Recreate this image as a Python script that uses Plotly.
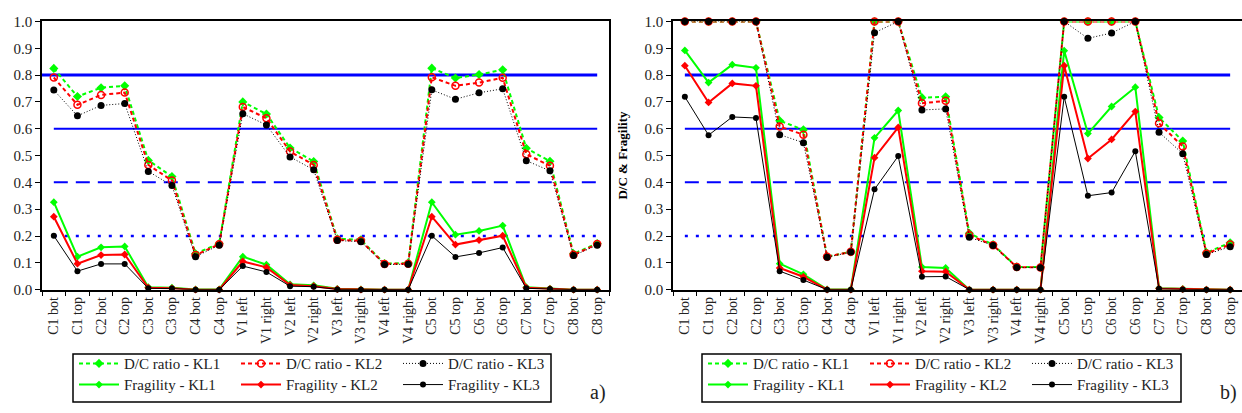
import plotly.graph_objects as go

categories = ["C1 bot", "C1 top", "C2 bot", "C2 top", "C3 bot", "C3 top", "C4 bot", "C4 top",
              "V1 left", "V1 right", "V2 left", "V2 right", "V3 left", "V3 right", "V4 left", "V4 right",
              "C5 bot", "C5 top", "C6 bot", "C6 top", "C7 bot", "C7 top", "C8 bot", "C8 top"]

# chart a)
a_dc_kl1 = [0.825, 0.720, 0.753, 0.760, 0.482, 0.422, 0.134, 0.172, 0.700, 0.655, 0.528, 0.478,
            0.190, 0.186, 0.097, 0.099, 0.826, 0.789, 0.802, 0.820, 0.527, 0.479, 0.134, 0.172]
a_dc_kl2 = [0.791, 0.689, 0.726, 0.735, 0.465, 0.407, 0.129, 0.169, 0.681, 0.639, 0.515, 0.465,
            0.186, 0.182, 0.096, 0.097, 0.792, 0.760, 0.772, 0.790, 0.505, 0.462, 0.130, 0.170]
a_dc_kl3 = [0.744, 0.648, 0.687, 0.694, 0.441, 0.388, 0.123, 0.166, 0.656, 0.614, 0.495, 0.447,
            0.183, 0.179, 0.094, 0.095, 0.745, 0.710, 0.734, 0.749, 0.481, 0.443, 0.127, 0.166]
a_fr_kl1 = [0.326, 0.123, 0.158, 0.161, 0.009, 0.007, 0.001, 0.001, 0.123, 0.093, 0.020, 0.016,
            0.003, 0.001, 0.0, 0.0, 0.326, 0.205, 0.219, 0.239, 0.009, 0.004, 0.0, 0.0]
a_fr_kl2 = [0.272, 0.097, 0.129, 0.131, 0.007, 0.005, 0.0, 0.0, 0.105, 0.083, 0.017, 0.013,
            0.002, 0.0, 0.0, 0.0, 0.272, 0.168, 0.185, 0.201, 0.007, 0.003, 0.0, 0.0]
a_fr_kl3 = [0.201, 0.069, 0.096, 0.096, 0.005, 0.004, 0.0, 0.0, 0.088, 0.066, 0.013, 0.011,
            0.001, 0.0, 0.0, 0.0, 0.201, 0.122, 0.137, 0.157, 0.005, 0.002, 0.0, 0.0]

# chart b)
b_dc_kl1 = [1.0, 1.0, 1.0, 1.0, 0.630, 0.596, 0.123, 0.141, 1.0, 1.0, 0.716, 0.719,
            0.210, 0.168, 0.085, 0.084, 1.0, 1.0, 1.0, 1.0, 0.642, 0.554, 0.138, 0.175]
b_dc_kl2 = [1.0, 1.0, 1.0, 1.0, 0.608, 0.578, 0.123, 0.141, 1.0, 1.0, 0.695, 0.704,
            0.203, 0.166, 0.084, 0.083, 1.0, 1.0, 1.0, 1.0, 0.620, 0.534, 0.135, 0.168]
b_dc_kl3 = [1.0, 1.0, 1.0, 1.0, 0.578, 0.548, 0.121, 0.140, 0.958, 1.0, 0.670, 0.674,
            0.195, 0.165, 0.083, 0.082, 1.0, 0.937, 0.957, 1.0, 0.587, 0.507, 0.131, 0.160]
b_fr_kl1 = [0.892, 0.772, 0.839, 0.827, 0.097, 0.057, 0.001, 0.001, 0.566, 0.668, 0.084, 0.081,
            0.0, 0.0, 0.0, 0.0, 0.891, 0.582, 0.683, 0.755, 0.005, 0.003, 0.0, 0.0]
b_fr_kl2 = [0.835, 0.698, 0.769, 0.760, 0.081, 0.048, 0.0, 0.0, 0.492, 0.605, 0.069, 0.067,
            0.0, 0.0, 0.0, 0.0, 0.835, 0.489, 0.560, 0.664, 0.004, 0.002, 0.0, 0.0]
b_fr_kl3 = [0.719, 0.576, 0.644, 0.640, 0.069, 0.036, 0.0, 0.0, 0.374, 0.498, 0.048, 0.049,
            0.0, 0.0, 0.0, 0.0, 0.719, 0.350, 0.362, 0.516, 0.003, 0.001, 0.0, 0.0]

ref_levels = [0.8, 0.6, 0.4, 0.2]
ref_widths = [3, 2, 2, 2.5]
ref_dashes = ["solid", "solid", "14px,8px", "3px,8px"]

W, H = 1242, 413
FONT = "Liberation Serif, Times New Roman, serif"
GREEN, RED, BLACK, BLUE = "#00FF00", "#FF0000", "#000000", "#0000FF"

fig = go.Figure()

def add_chart(xa, ya, dc, fr, leg_dc, leg_fr):
    names_dc = ["D/C ratio - KL1", "D/C ratio - KL2", "D/C ratio - KL3"]
    names_fr = ["Fragility - KL1", "Fragility - KL2", "Fragility - KL3"]
    fr_styles = [
        dict(line=dict(color=GREEN, width=2), marker=dict(symbol="diamond", size=6, color=GREEN)),
        dict(line=dict(color=RED, width=2), marker=dict(symbol="diamond", size=6, color=RED)),
        dict(line=dict(color=BLACK, width=1), marker=dict(symbol="circle", size=6, color=BLACK)),
    ]
    dc_styles = [
        dict(line=dict(color=GREEN, width=2, dash="4px,3px"),
             marker=dict(symbol="diamond", size=7, color=GREEN)),
        dict(line=dict(color=RED, width=2, dash="4px,3px"),
             marker=dict(symbol="circle-open", size=7, color=RED, line=dict(width=1.5, color=RED))),
        dict(line=dict(color=BLACK, width=1, dash="1px,2px"),
             marker=dict(symbol="circle", size=7, color=BLACK)),
    ]
    for vals, name, st in zip(fr, names_fr, fr_styles):
        fig.add_trace(go.Scatter(x=categories, y=vals, name=name, mode="lines+markers",
                                 xaxis=xa, yaxis=ya, legend=leg_fr, cliponaxis=False, **st))
    for vals, name, st in zip(dc, names_dc, dc_styles):
        fig.add_trace(go.Scatter(x=categories, y=vals, name=name, mode="lines+markers",
                                 xaxis=xa, yaxis=ya, legend=leg_dc, cliponaxis=False, **st))

add_chart("x", "y", [a_dc_kl1, a_dc_kl2, a_dc_kl3], [a_fr_kl1, a_fr_kl2, a_fr_kl3], "legend", "legend2")
add_chart("x2", "y2", [b_dc_kl1, b_dc_kl2, b_dc_kl3], [b_fr_kl1, b_fr_kl2, b_fr_kl3], "legend3", "legend4")

shapes = []
n = len(categories)
for xr, yr, first_start in [("x", "y", -0.5), ("x2", "y2", 0)]:
    for i, (lvl, w, d) in enumerate(zip(ref_levels, ref_widths, ref_dashes)):
        x0 = first_start if i == 0 else 0
        shapes.append(dict(type="line", xref=xr, yref=yr, x0=x0, x1=n - 1, y0=lvl, y1=lvl,
                           line=dict(color=BLUE, width=w, dash=d), layer="below"))

# legend boxes
for x0, x1 in [(73, 551), (702, 1181)]:
    shapes.append(dict(type="rect", xref="paper", yref="paper", x0=x0 / W, x1=x1 / W,
                       y0=1 - 410 / H, y1=1 - 360 / H, line=dict(color=BLACK, width=1.5),
                       layer="above"))

ydom = [1 - 293 / H, 1 - 14 / H]
axis_common = dict(showline=True, linecolor=BLACK, linewidth=1.5, ticks="outside", ticklen=5,
                   tickcolor=BLACK, showgrid=False, zeroline=False,
                   tickfont=dict(family=FONT, size=15, color="#222"))
xcommon = dict(axis_common, type="category", tickangle=-90, tickson="boundaries",
               range=[-0.5, n - 0.5], tickfont=dict(family=FONT, size=14, color="#222"))
ycommon = dict(axis_common, range=[0, 1], dtick=0.1, tickformat=".1f")

legend_common = dict(orientation="h", xanchor="left", yanchor="middle", bgcolor="rgba(0,0,0,0)",
                     borderwidth=0, font=dict(family=FONT, size=15, color="#222"),
                     entrywidth=107, entrywidthmode="pixels", itemwidth=40, tracegroupgap=0)

fig.update_layout(
    width=W, height=H, margin=dict(l=0, r=0, t=0, b=0),
    paper_bgcolor="white", plot_bgcolor="white",
    font=dict(family=FONT),
    xaxis=dict(xcommon, domain=[42 / W, 609 / W], anchor="y", mirror=True),
    yaxis=dict(ycommon, domain=ydom, anchor="x", mirror=True),
    xaxis2=dict(xcommon, domain=[673 / W, 1.0], anchor="y2", mirror=True),
    yaxis2=dict(ycommon, domain=ydom, anchor="x2"),
    legend=dict(legend_common, x=74 / W, y=1 - 370 / H),
    legend2=dict(legend_common, x=74 / W, y=1 - 392 / H),
    legend3=dict(legend_common, x=703 / W, y=1 - 370 / H),
    legend4=dict(legend_common, x=703 / W, y=1 - 392 / H),
    shapes=shapes,
    showlegend=True,
    annotations=[
        dict(text="<b>D/C & Fragility</b>", xref="paper", yref="paper", x=623 / W,
             y=(ydom[0] + ydom[1]) / 2, textangle=-90, showarrow=False,
             font=dict(family=FONT, size=13, color=BLACK), xanchor="center", yanchor="middle"),
        dict(text="a)", xref="paper", yref="paper", x=598 / W, y=1 - 400 / H, showarrow=False,
             font=dict(family=FONT, size=20, color="#222"), xanchor="center", yanchor="middle"),
        dict(text="b)", xref="paper", yref="paper", x=1228 / W, y=1 - 400 / H, showarrow=False,
             font=dict(family=FONT, size=20, color="#222"), xanchor="center", yanchor="middle"),
    ],
)

fig.write_html("out.html")
